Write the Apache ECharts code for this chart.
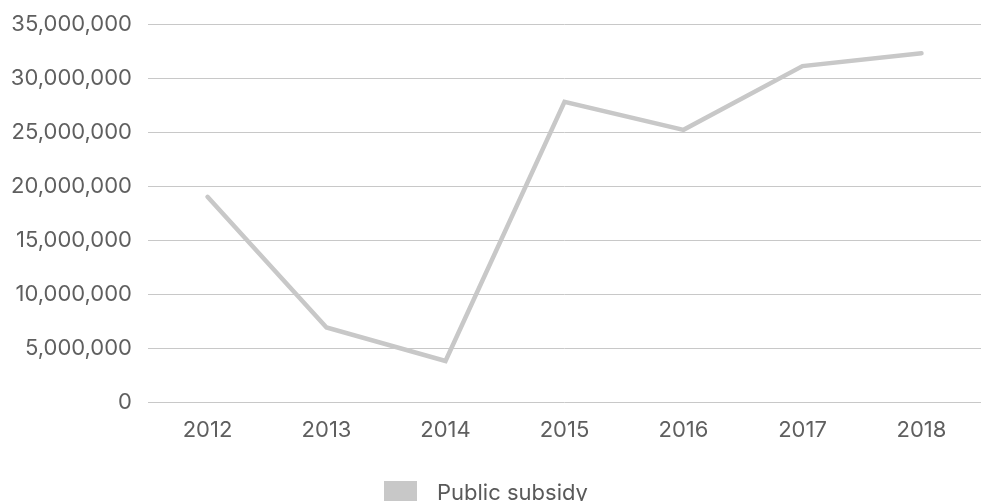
<!DOCTYPE html>
<html>
<head>
<meta charset="utf-8">
<script src="https://cdn.jsdelivr.net/npm/echarts@6/dist/echarts.min.js"></script>
<style>
html,body{margin:0;padding:0;background:#fff;}
#chart{width:981px;height:501px;}
</style>
</head>
<body>
<div id="chart"></div>
<script>
const categories = ['2012', '2013', '2014', '2015', '2016', '2017', '2018'];
const publicSubsidy = [19000000, 6900000, 3800000, 27800000, 25200000, 31100000, 32300000];
const seriesName = 'Public subsidy';

const chart = echarts.init(document.getElementById('chart'), null, {renderer: 'canvas'});
const font = 'Inter, Roboto, "Liberation Sans", sans-serif';
chart.setOption({
  animation: false,
  backgroundColor: '#ffffff',
  grid: {left: 148, right: 0, top: 24, bottom: 99, containLabel: false},
  legend: {
    left: 379, top: 476,
    itemWidth: 33, itemHeight: 24,
    icon: 'rect',
    textStyle: {color: '#595959', fontSize: 22, fontFamily: font, padding: [0, 0, 0, 15]},
    data: [{name: seriesName, itemStyle: {color: '#c8c8c8'}}]
  },
  xAxis: {
    type: 'category',
    data: categories,
    boundaryGap: true,
    axisLine: {show: false},
    axisTick: {show: false},
    axisLabel: {color: '#5f5f5f', fontSize: 22, fontFamily: font, margin: 17}
  },
  yAxis: {
    type: 'value',
    min: 0, max: 35000000, interval: 5000000,
    axisLine: {show: false},
    axisTick: {show: false},
    splitLine: {lineStyle: {color: '#c8c8c8', width: 1}},
    axisLabel: {
      color: '#5f5f5f', fontSize: 22, fontFamily: font, margin: 16,
      formatter: v => v.toLocaleString('en-US')
    }
  },
  series: [{
    name: seriesName,
    type: 'line',
    data: publicSubsidy,
    symbol: 'none',
    lineStyle: {color: '#c8c8c8', width: 4.5, cap: 'round', join: 'miter'},
    itemStyle: {color: '#c8c8c8'}
  }]
});
</script>
</body>
</html>
